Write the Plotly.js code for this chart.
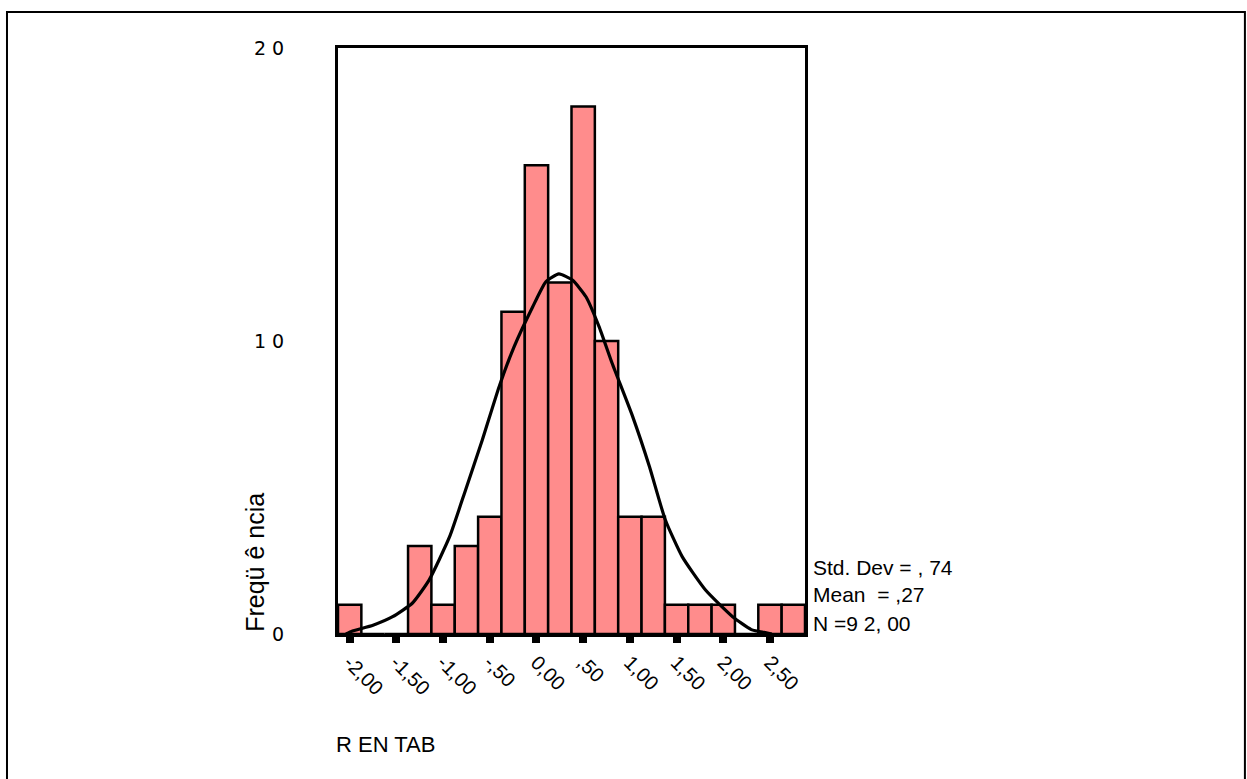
<!DOCTYPE html>
<html>
<head>
<meta charset="utf-8">
<script src="https://cdn.plot.ly/plotly-3.0.1.min.js"></script>
<style>
  html, body { margin: 0; padding: 0; background: #fff; }
  #chart { width: 1247px; height: 779px; }
</style>
</head>
<body>
<div id="chart"></div>
<script>
// Histogram bins (centers) and counts
var binCenters = [-2.00, -1.75, -1.50, -1.25, -1.00, -0.75, -0.50, -0.25, 0.00, 0.25,
                  0.50, 0.75, 1.00, 1.25, 1.50, 1.75, 2.00, 2.25, 2.50, 2.75];
var counts = [1, 0, 0, 3, 1, 3, 4, 11, 16, 12, 18, 10, 4, 4, 1, 1, 1, 0, 1, 1];

// Normal curve points
var curveX = [-2.04, -1.97, -1.75, -1.54, -1.33, -1.15, -0.93, -0.76, -0.58, -0.40, -0.24, -0.04,
              0.10, 0.24, 0.385, 0.53, 0.67, 0.81, 1.03, 1.21, 1.38, 1.56, 1.81, 2.10, 2.30, 2.46, 2.52];
var curveY = [0.00, 0.10, 0.30, 0.59, 1.05, 1.84, 3.32, 4.91, 6.62, 8.44, 9.80, 11.17,
              12.02, 12.29, 12.08, 11.51, 10.49, 9.24, 7.42, 5.71, 3.89, 2.64, 1.50, 0.59, 0.15, 0.04, 0.00];

// Tick labels
var xTickVals = [-2.0, -1.5, -1.0, -0.5, 0.0, 0.5, 1.0, 1.5, 2.0, 2.5];
var xTickText = ["-2,00", "-1,50", "-1,00", "-,50", "0,00", ",50", "1,00", "1,50", "2,00", "2,50"];
var yTickVals = [0, 10, 20];
var yTickText = ["0", "1 0", "2 0"];

// Summary statistics text
var statsLines = ["Std. Dev = , 74", "Mean  = ,27", "N =9 2, 00"];
var statsY = [0.1143, 0.0666, 0.0171];

var bars = {
  type: 'bar',
  x: binCenters,
  y: counts,
  width: 0.25,
  marker: { color: 'rgb(255,140,140)', line: { color: '#000', width: 2.5 } },
  hoverinfo: 'x+y'
};

var curve = {
  type: 'scatter',
  mode: 'lines',
  x: curveX,
  y: curveY,
  line: { color: '#000', width: 3.2, shape: 'spline', smoothing: 0.5 },
  hoverinfo: 'skip'
};

var annotations = [
  { text: 'Freqü ê ncia', xref: 'paper', yref: 'paper', x: -0.178, y: 0.123,
    textangle: -90, showarrow: false, font: { family: 'Liberation Sans, Arial', size: 25, color: '#000' },
    xanchor: 'center', yanchor: 'middle' },
  { text: 'R EN TAB', xref: 'paper', yref: 'paper', x: -0.008, y: -0.189,
    showarrow: false, font: { family: 'Liberation Sans, Arial', size: 22, color: '#000' },
    xanchor: 'left', yanchor: 'middle' }
];
statsLines.forEach(function (t, i) {
  annotations.push({ text: t, xref: 'paper', yref: 'paper', x: 1.013, y: statsY[i],
    showarrow: false, font: { family: 'Liberation Sans, Arial', size: 21, color: '#000' },
    xanchor: 'left', yanchor: 'middle' });
});

var layout = {
  width: 1247,
  height: 779,
  margin: { l: 338, r: 442, t: 48, b: 145, pad: 0 },
  paper_bgcolor: '#fff',
  plot_bgcolor: '#fff',
  showlegend: false,
  bargap: 0,
  xaxis: {
    range: [-2.125, 2.875],
    tickmode: 'array',
    tickvals: xTickVals,
    ticktext: xTickText,
    tickangle: 45,
    ticks: 'outside',
    ticklen: 6,
    tickwidth: 8,
    tickcolor: '#000',
    showgrid: false,
    zeroline: false,
    showline: true,
    linecolor: '#000',
    linewidth: 3,
    mirror: true,
    tickfont: { family: 'Liberation Sans, Arial', size: 20, color: '#000' }
  },
  yaxis: {
    range: [0, 20],
    tickmode: 'array',
    tickvals: yTickVals,
    ticktext: yTickText,
    ticks: '',
    ticklabelstandoff: 47,
    showgrid: false,
    zeroline: false,
    showline: true,
    linecolor: '#000',
    linewidth: 3,
    mirror: true,
    tickfont: { family: 'DejaVu Sans', size: 19, color: '#000' }
  },
  annotations: annotations,
  shapes: [
    { type: 'rect', xref: 'paper', yref: 'paper', x0: -0.7088, x1: 1.942, y0: -0.26, y1: 1.0614,
      line: { color: '#000', width: 2 }, fillcolor: 'rgba(0,0,0,0)', layer: 'below' }
  ]
};

Plotly.newPlot('chart', [bars, curve], layout, { staticPlot: true, displayModeBar: false });
</script>
</body>
</html>
